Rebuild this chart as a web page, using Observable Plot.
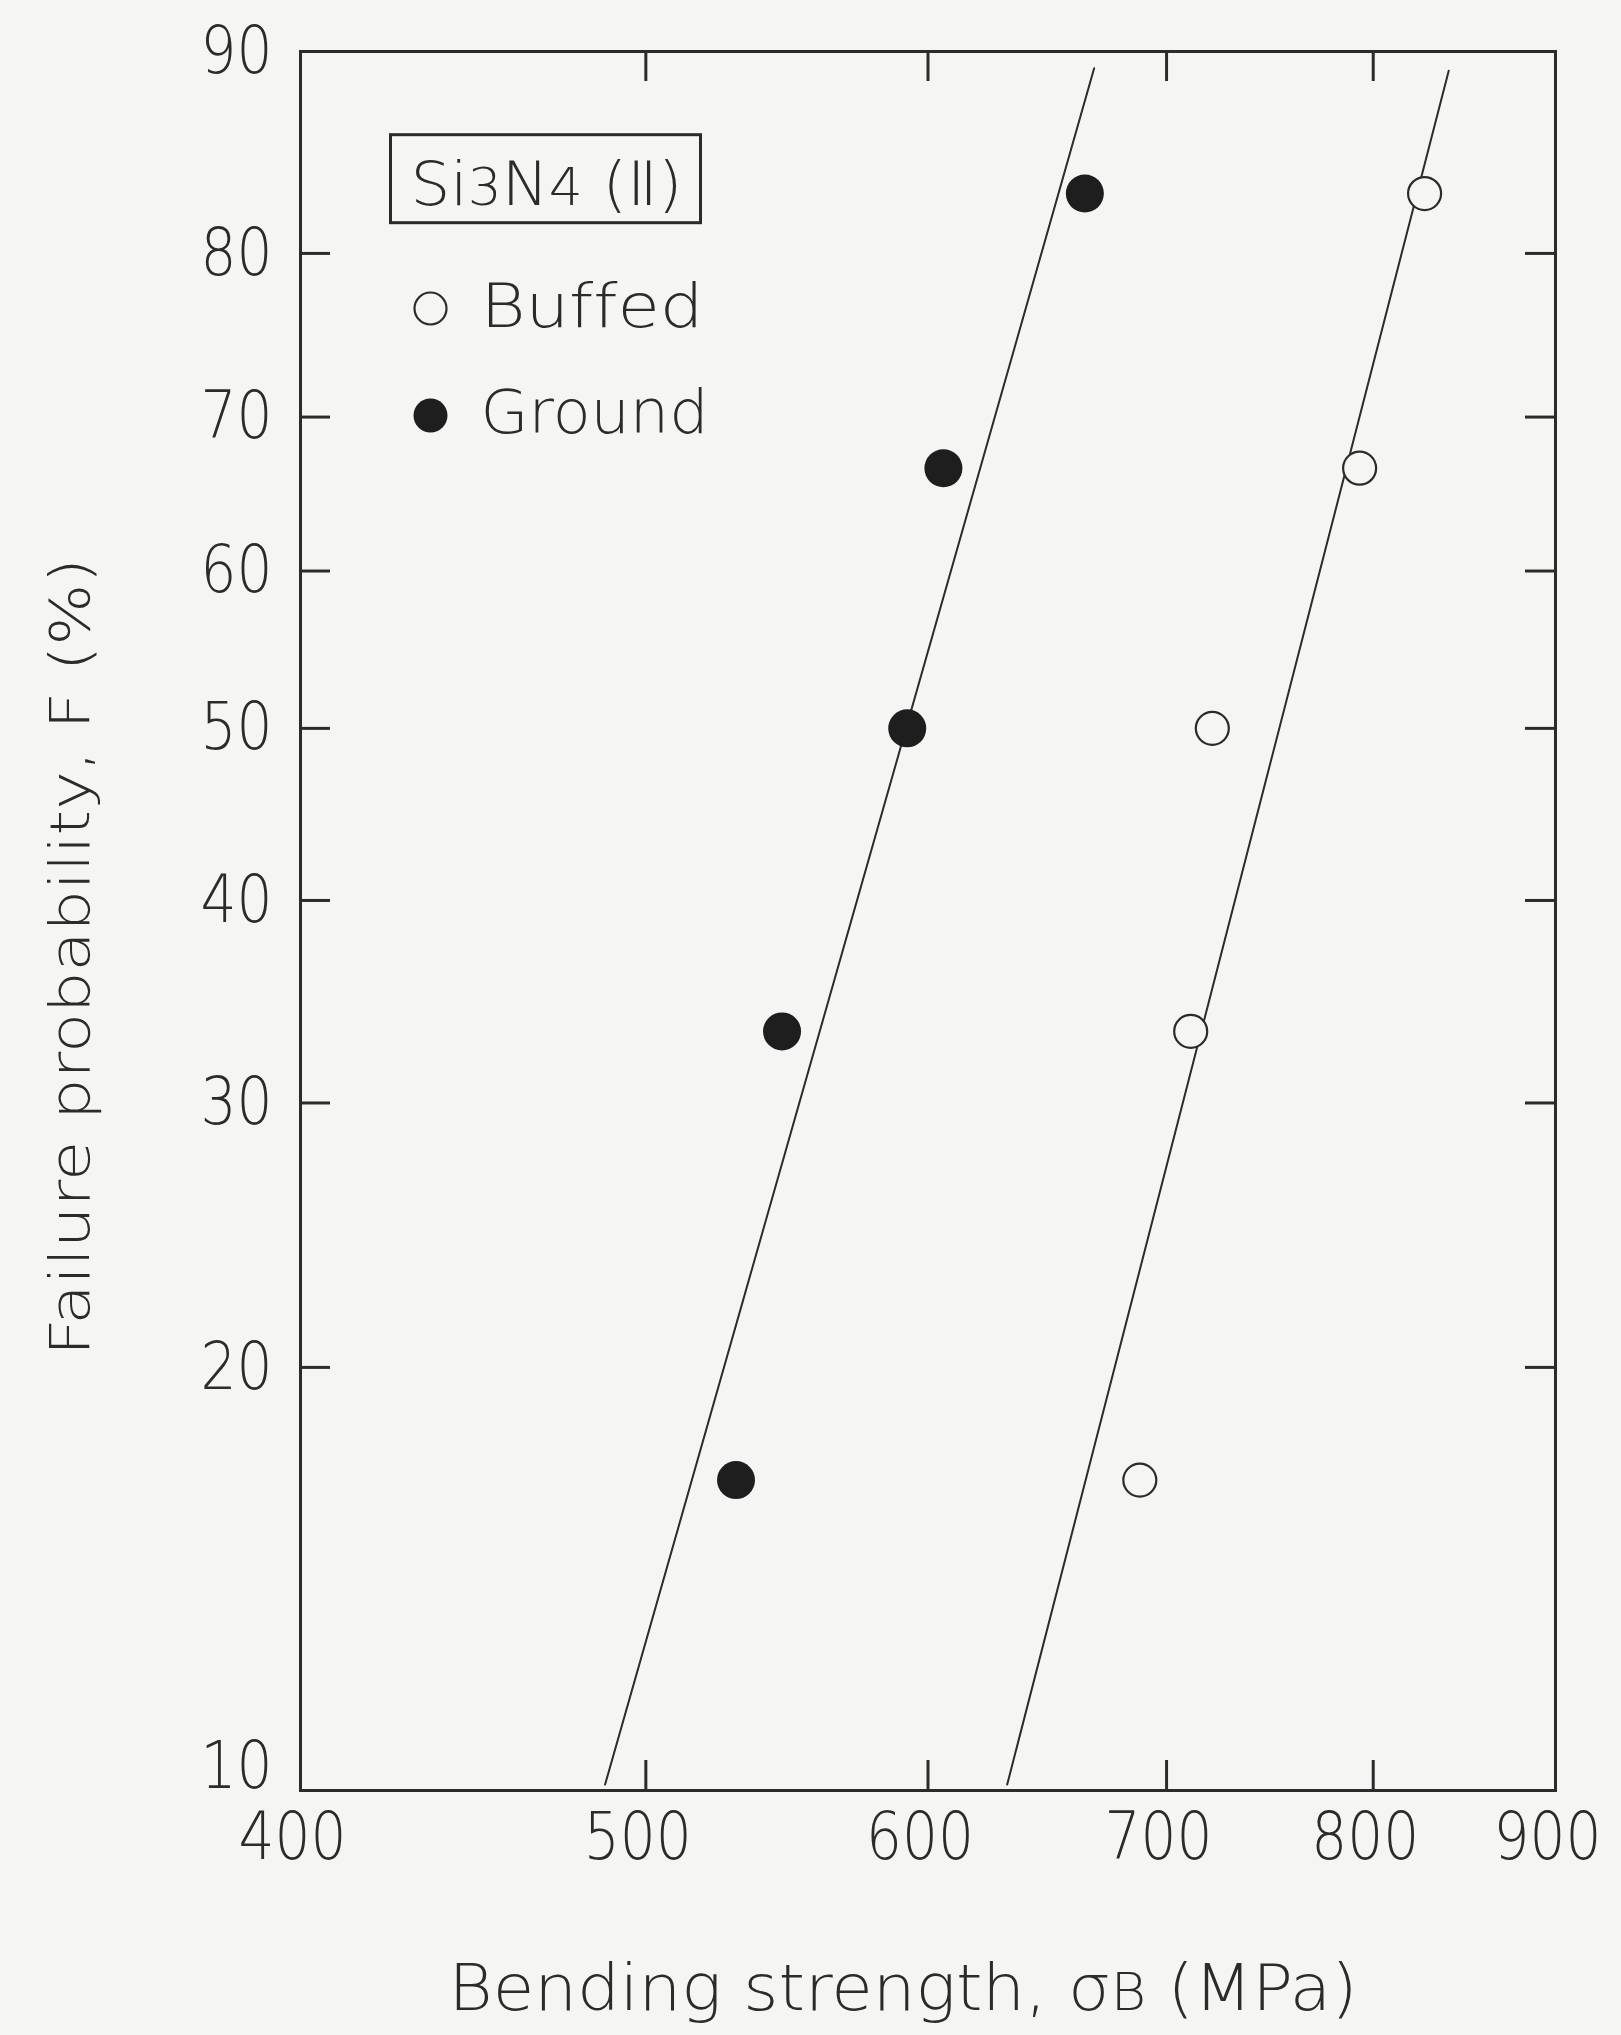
<!DOCTYPE html>
<html>
<head>
<meta charset="utf-8">
<script src="https://cdn.jsdelivr.net/npm/d3@7"></script>
<script src="https://cdn.jsdelivr.net/npm/@observablehq/plot@0.6"></script>
<style>
  html, body { margin: 0; padding: 0; background: #f5f5f3; }
  svg text { font-variant-ligatures: none; }
</style>
</head>
<body>
<script>
// ---- data ----
const rankF = [16.7, 33.3, 50, 66.7, 83.3];          // failure probability, %
const groundStrength = [530, 546, 592, 606, 664];    // MPa
const buffedStrength = [688, 711, 721, 793, 827];    // MPa
const groundFitStrength = [487, 668];
const groundFitF = [10.1, 89.3];
const buffedFitStrength = [631.5, 840];
const buffedFitF = [10.1, 89.2];
const xTicks = [400, 500, 600, 700, 800, 900];
const yTicks = [10, 20, 30, 40, 50, 60, 70, 80, 90];

// Weibull probability transform
const W = F => Math.log(-Math.log(1 - F / 100));

const ground = groundStrength.map((s, i) => ({s, F: rankF[i]}));
const buffed = buffedStrength.map((s, i) => ({s, F: rankF[i]}));
const groundFit = groundFitStrength.map((s, i) => ({s, F: groundFitF[i]}));
const buffedFit = buffedFitStrength.map((s, i) => ({s, F: buffedFitF[i]}));

const ink = "#2b2b2b";
const bg = "#f5f5f3";
const W_PX = 1621, H_PX = 2035, mL = 300, mR = 66, mT = 51, mB = 245;
const frameW = W_PX - mL - mR, frameH = H_PX - mT - mB, tick = 30;

const svg = Plot.plot({
  width: W_PX, height: H_PX,
  marginLeft: mL, marginRight: mR, marginTop: mT, marginBottom: mB,
  style: {background: bg, color: ink, fontFamily: "'DejaVu Sans', sans-serif", fontWeight: 200, fontSize: "66px"},
  x: {type: "log", domain: [400, 900], axis: null},
  y: {type: "linear", domain: [W(10), W(90)], axis: null},
  marks: [
    // inward ticks on all four sides
    Plot.tickX(xTicks.slice(1, -1), {x: d => d, insetTop: frameH - tick, stroke: ink, strokeWidth: 3}),
    Plot.tickX(xTicks.slice(1, -1), {x: d => d, insetBottom: frameH - tick, stroke: ink, strokeWidth: 3}),
    Plot.tickY(yTicks.slice(1, -1), {y: d => W(d), insetRight: frameW - tick, stroke: ink, strokeWidth: 3}),
    Plot.tickY(yTicks.slice(1, -1), {y: d => W(d), insetLeft: frameW - tick, stroke: ink, strokeWidth: 3}),
    Plot.frame({stroke: ink, strokeWidth: 3}),
    // tick labels
    Plot.text(xTicks, {x: d => d, text: d => String(d), frameAnchor: "bottom", dx: -8, dy: 47, textAnchor: "middle", lineAnchor: "middle", fill: ink, className: "tl"}),
    Plot.text(yTicks.filter(d => d > 10), {y: d => W(d), text: d => String(d), frameAnchor: "left", dx: -28, textAnchor: "end", lineAnchor: "middle", fill: ink, className: "tl"}),
    Plot.text(yTicks.filter(d => d === 10), {y: d => W(d), text: d => String(d), frameAnchor: "left", dx: -28, dy: -24, textAnchor: "end", lineAnchor: "middle", fill: ink, className: "tl"}),
    // axis titles
    Plot.text(["Bending strength, σB (MPa)"], {text: d => d, frameAnchor: "bottom", dx: -25, dy: 199, textAnchor: "middle", lineAnchor: "middle", fontSize: 64, fill: ink}),
    Plot.text(["Failure probability, F (%)"], {text: d => d, frameAnchor: "left", dx: -229, dy: 36, rotate: -90, textAnchor: "middle", lineAnchor: "middle", fontSize: 56, fill: ink}),
    // fitted lines
    Plot.line(groundFit, {x: "s", y: d => W(d.F), stroke: ink, strokeWidth: 2}),
    Plot.line(buffedFit, {x: "s", y: d => W(d.F), stroke: ink, strokeWidth: 2}),
    // data points
    Plot.dot(ground, {x: "s", y: d => W(d.F), r: 19, fill: "#1e1e1e", stroke: "none"}),
    Plot.dot(buffed, {x: "s", y: d => W(d.F), r: 16.5, fill: bg, stroke: ink, strokeWidth: 2.2}),
    // legend
    Plot.text(["Si3N4 (Ⅱ)"], {text: d => d, frameAnchor: "top-left", dx: 110, dy: 134, textAnchor: "start", lineAnchor: "middle", fontSize: 60, fill: ink}),
    Plot.dot([0], {frameAnchor: "top-left", dx: 130, dy: 257, r: 16, fill: bg, stroke: ink, strokeWidth: 2.2}),
    Plot.text(["Buffed"], {text: d => d, frameAnchor: "top-left", dx: 180, dy: 256, textAnchor: "start", lineAnchor: "middle", fontSize: 60, fill: ink}),
    Plot.dot([0], {frameAnchor: "top-left", dx: 130, dy: 364, r: 17, fill: "#1e1e1e", stroke: "none"}),
    Plot.text(["Ground"], {text: d => d, frameAnchor: "top-left", dx: 180, dy: 362, textAnchor: "start", lineAnchor: "middle", fontSize: 60, fill: ink})
  ]
});
document.body.appendChild(svg);

// post-processing: condensed tick digits, subscripts, letter spacing, legend box
const root = d3.select(svg);
root.selectAll(".tl text").each(function () {
  d3.select(this).attr("textLength", this.textContent.length * 36).attr("lengthAdjust", "spacingAndGlyphs");
});
let titleNode = null;
root.selectAll("text").each(function () {
  const t = this.textContent;
  const sel = d3.select(this);
  if (t === "Bending strength, σB (MPa)") {
    sel.text(null);
    sel.append("tspan").text("Bending strength, σ");
    sel.append("tspan").attr("font-size", "0.8em").text("B");
    sel.append("tspan").text(" (MPa)");
    sel.attr("textLength", 909).attr("lengthAdjust", "spacingAndGlyphs");
  } else if (t === "Failure probability, F (%)") {
    sel.attr("textLength", 798).attr("lengthAdjust", "spacingAndGlyphs");
  } else if (t === "Si3N4 (Ⅱ)") {
    sel.text(null);
    sel.append("tspan").text("Si");
    sel.append("tspan").attr("font-size", "0.85em").text("3");
    sel.append("tspan").text("N");
    sel.append("tspan").attr("font-size", "0.85em").text("4");
    sel.append("tspan").text(" (Ⅱ)");
    sel.attr("textLength", 272).attr("lengthAdjust", "spacingAndGlyphs");
    titleNode = this;
  } else if (t === "Buffed") {
    sel.attr("textLength", 223).attr("lengthAdjust", "spacingAndGlyphs");
  } else if (t === "Ground") {
    sel.attr("textLength", 228).attr("lengthAdjust", "spacingAndGlyphs");
  }
});
if (titleNode) {
  const b = titleNode.getBBox();
  const m = titleNode.getCTM();
  const x0 = m.a * b.x + m.e, y0 = m.d * b.y + m.f;
  root.append("rect")
    .attr("x", x0 - 20).attr("y", y0 - 14)
    .attr("width", b.width + 38).attr("height", b.height + 18)
    .attr("fill", "none").attr("stroke", ink).attr("stroke-width", 3);
}
</script>
</body>
</html>
